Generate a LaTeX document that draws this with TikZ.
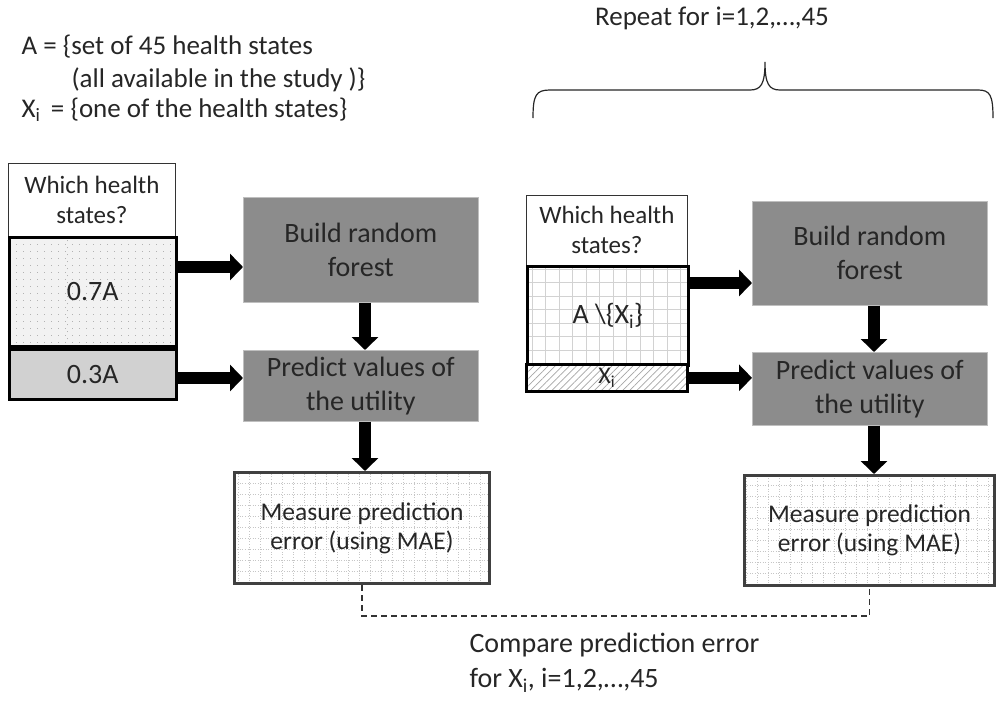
\documentclass[tikz,border=0pt]{standalone}
\usepackage{fontspec}
\setmainfont{Carlito}
\usetikzlibrary{arrows.meta,patterns.meta}
\tikzset{
  txt/.style={text=black!85},
  whichbox/.style={draw=black!80,line width=0.8,fill=white,txt,align=center,
    font=\fontsize{25}{30}\selectfont,anchor=north west,inner sep=0},
  setbox/.style={draw=black,line width=2.5,txt,align=center,
    font=\fontsize{28}{34}\selectfont,anchor=north west,inner sep=0},
  graybox/.style={fill=black!45,draw=black!25,line width=0.6,txt,align=center,
    font=\fontsize{28}{34}\selectfont,anchor=north west,inner sep=0},
  measbox/.style={draw=black!75,line width=3,fill=white,txt,align=center,
    font=\fontsize{25.5}{29}\selectfont,anchor=north west,inner sep=0,
    path picture={\draw[gray!45,dotted,line width=0.6,step=11pt]
      (path picture bounding box.south west) grid (path picture bounding box.north east);}},
  dotfill/.style={fill=black!5,path picture={\draw[gray!60,line width=0.8,
      dash pattern=on 0.9pt off 6.1pt,xstep=2000pt,ystep=7pt]
      (path picture bounding box.south west) grid (path picture bounding box.north east);}},
  gridfill/.style={fill=white,path picture={\draw[gray!35,line width=0.9,step=13.5pt]
      (path picture bounding box.south west) grid (path picture bounding box.north east);}},
  bigarrow/.style={line width=12,-{Triangle[width=26pt,length=13pt]}},
  plain/.style={txt,font=\fontsize{27}{32}\selectfont}
}
\begin{document}
\begin{tikzpicture}[x=1pt,y=-1pt]
\useasboundingbox (0,0) rectangle (996,702);
% legend
\node[plain,anchor=west] (defA) at (18,47) {A = \{set of 45 health states};
\node[plain,anchor=west] (defA2) at (68,80) {(all available in the study )\}};
\node[plain,anchor=west] (defX) at (18,110) {X\textsubscript{i}\, = \{one of the health states\}};
% left part
\node[whichbox,minimum width=167,minimum height=73] (whichL) at (8,163) {Which health\\states?};
\node[setbox,dotfill,minimum width=167,minimum height=109] (sevenL) at (8,236) {0.7A};
\node[setbox,fill=black!18,minimum width=167,minimum height=50] (threeL) at (8,348) {0.3A};
\node[graybox,minimum width=235,minimum height=105] (buildL) at (243,197) {Build random\\forest};
\node[graybox,minimum width=235,minimum height=71] (predL) at (243,350) {Predict values of\\the utility};
\node[measbox,minimum width=255,minimum height=111] (measL) at (233,471) {Measure prediction\\error (using MAE)};
\draw[bigarrow] (sevenL.east |- 0,267) -- (buildL.west |- 0,267);
\draw[bigarrow] (threeL.east |- 0,378) -- (predL.west |- 0,378);
\draw[bigarrow] (buildL.south -| 365,0) -- (predL.north -| 365,0);
\draw[bigarrow] (predL.south -| 365,0) -- (measL.north -| 365,0);
% right part
\node[whichbox,minimum width=161,minimum height=70] (whichR) at (526,195) {Which health\\states?};
\node[setbox,gridfill,minimum width=161,minimum height=99] (restR) at (526,265) {A \textbackslash\{X\textsubscript{i}\}};
\node[setbox,preaction={fill=white},pattern={Lines[angle=45,distance=5pt,line width=0.7pt]},
  pattern color=gray!70,minimum width=161,minimum height=27,font=\fontsize{24}{28}\selectfont] (oneR) at (526,364) {X\textsubscript{i}};
\node[graybox,minimum width=235,minimum height=104] (buildR) at (752,201) {Build random\\forest};
\node[graybox,minimum width=235,minimum height=73] (predR) at (752,352) {Predict values of\\the utility};
\node[measbox,minimum width=250,minimum height=110] (measR) at (743,474) {Measure prediction\\error (using MAE)};
\draw[bigarrow] (restR.east |- 0,283) -- (buildR.west |- 0,283);
\draw[bigarrow] (oneR.east) -- (predR.west |- oneR.east);
\draw[bigarrow] (buildR.south -| 874,0) -- (predR.north -| 874,0);
\draw[bigarrow] (predR.south -| 874,0) -- (measR.north -| 874,0);
% brace
\draw[black!85,line width=1.2] (533,118) .. controls (533,95) and (536,90) .. (550,90) -- (750,90)
  .. controls (761,90) and (765,84) .. (765,62) .. controls (765,84) and (769,90) .. (780,90)
  -- (978,90) .. controls (990,90) and (993,95) .. (993,118);
\node[plain] (repeat) at (712,18) {Repeat for i=1,2,…,45};
% comparison
\draw[black!80,line width=1.5,dash pattern=on 6pt off 4pt] (measL.south) -- ++(0,31) -| (measR.south);
\node[plain,anchor=north west,align=left,font=\fontsize{28}{35}\selectfont] (cmp) at (466,630)
  {Compare prediction error\\for X\textsubscript{i}, i=1,2,…,45};
\end{tikzpicture}
\end{document}
